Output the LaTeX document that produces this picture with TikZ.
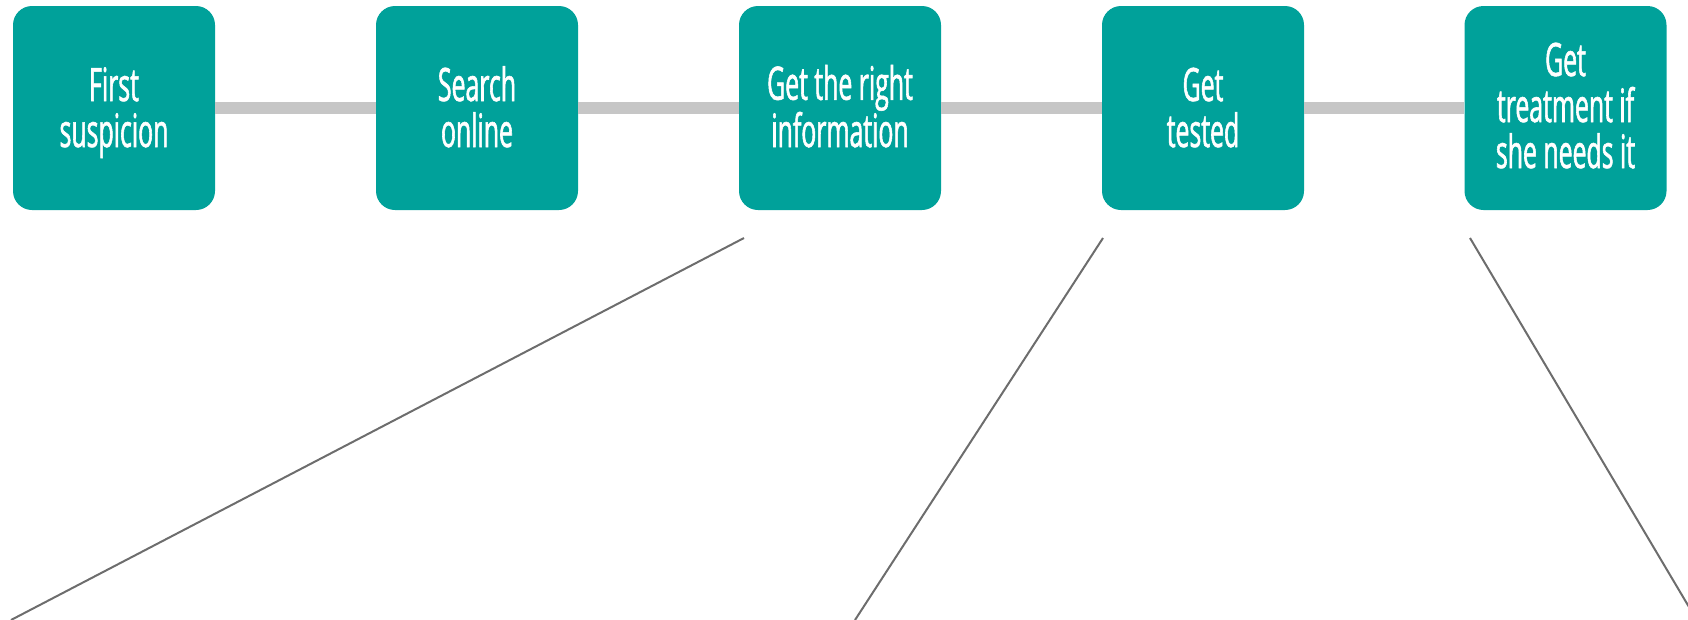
\documentclass[tikz,border=0pt]{standalone}
\usepackage{fontspec}
\setmainfont{Open Sans}[FakeStretch=0.54,FakeBold=1.2]
\definecolor{tealbox}{RGB}{0,161,154}
\definecolor{bargray}{RGB}{198,198,198}
\definecolor{linegray}{RGB}{109,109,109}
\begin{document}
\begin{tikzpicture}[x=1pt,y=-1pt,
  stepbox/.style={fill=tealbox, rounded corners=19pt, minimum width=202pt, minimum height=204pt,
    inner sep=0pt},
  steptext/.style={anchor=base, inner sep=0pt, text=white, align=center,
    font=\fontsize{46}{46}\selectfont},
  bar/.style={draw=bargray, line width=12pt},
  pointer/.style={draw=linegray, line width=2pt}]
\useasboundingbox (0,0) rectangle (1688,619);
\node[stepbox] (b1) at (114,108) {};
\node[stepbox] (b2) at (477,108) {};
\node[stepbox] (b3) at (840,108) {};
\node[stepbox] (b4) at (1203,108) {};
\node[stepbox] (b5) at (1565.5,108) {};
\node[steptext] (t1) at (114,147) {First\\suspicion};
\node[steptext] (t2) at (477,147) {Search\\online};
\node[steptext] (t3) at (840,147) {Get the right\\information};
\node[steptext] (t4) at (1203,147) {Get\\tested};
\node[steptext] (t5) at (1565.5,168) {Get\\treatment if\\she needs it};
\draw[bar] (b1.east) -- (b2.west);
\draw[bar] (b2.east) -- (b3.west);
\draw[bar] (b3.east) -- (b4.west);
\draw[bar] (b4.east) -- (b5.west);
\coordinate (p1s) at (744,238);
\coordinate (p1e) at (11,620);
\coordinate (p2s) at (1103,238);
\coordinate (p2e) at (855,620);
\coordinate (p3s) at (1470,238);
\coordinate (p3e) at (1689,607);
\draw[pointer] (p1s) -- (p1e);
\draw[pointer] (p2s) -- (p2e);
\draw[pointer] (p3s) -- (p3e);
\end{tikzpicture}
\end{document}
